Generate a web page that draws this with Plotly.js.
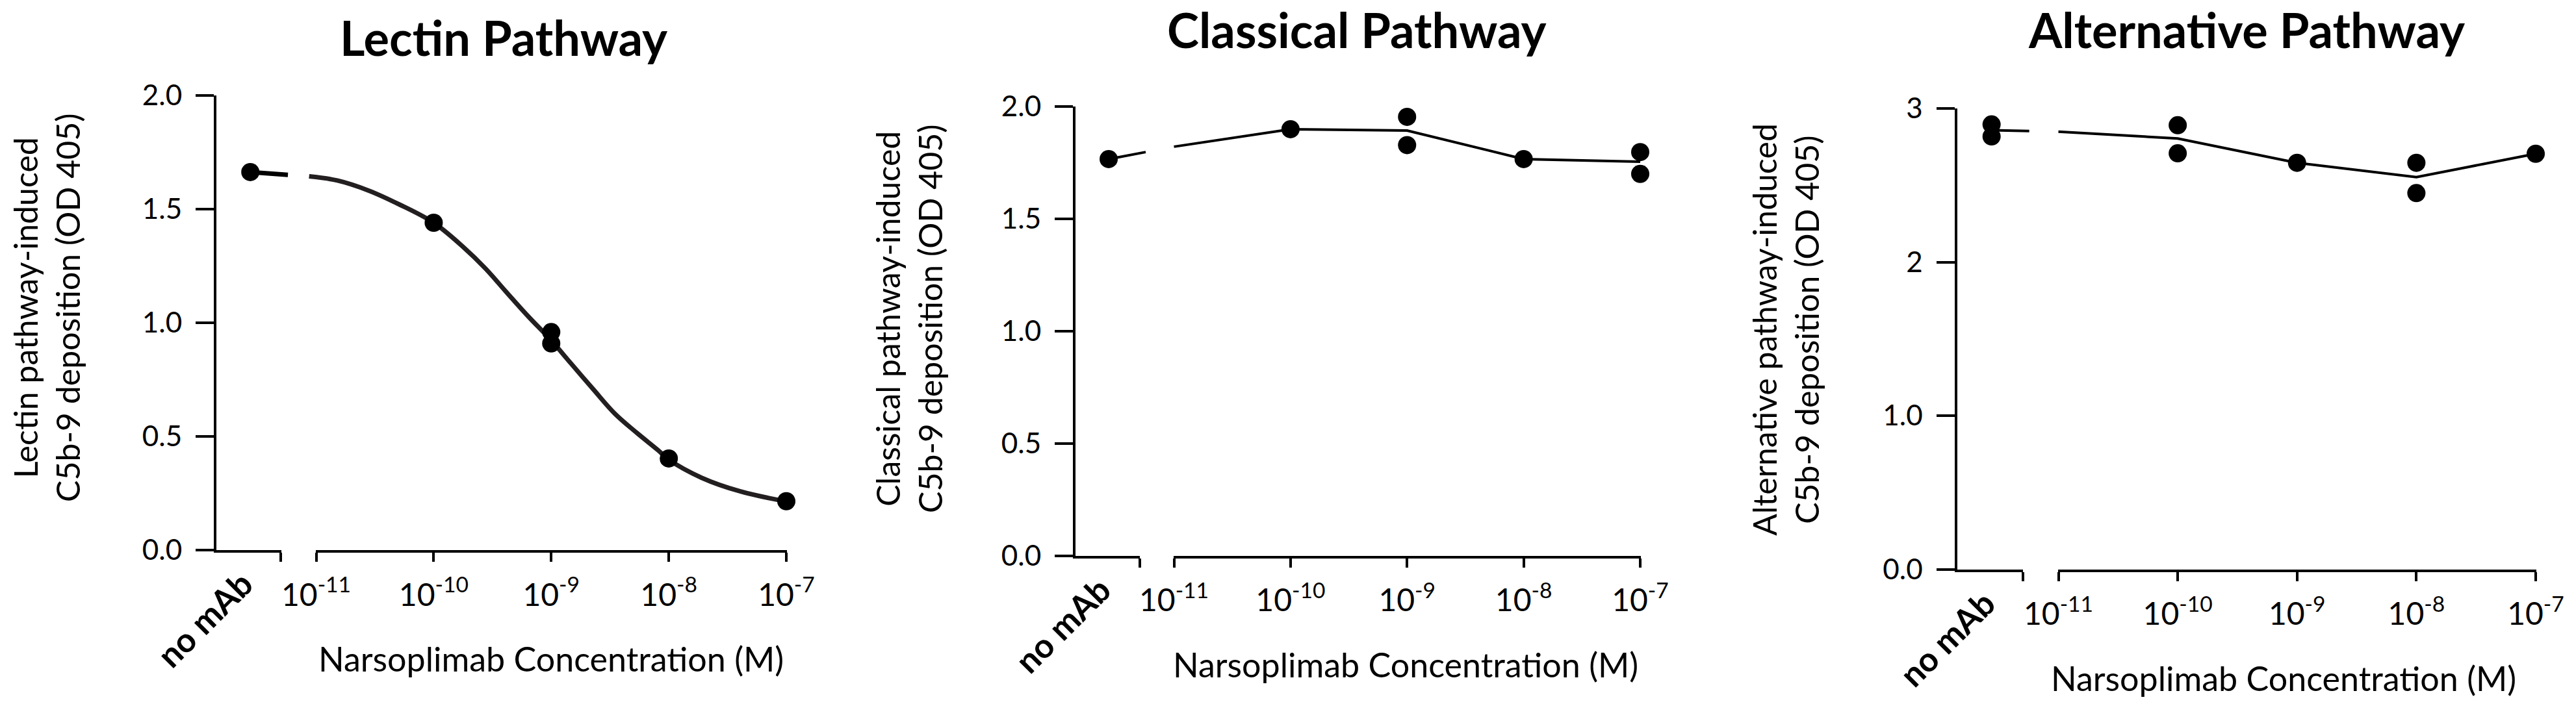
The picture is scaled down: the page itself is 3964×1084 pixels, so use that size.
<!DOCTYPE html>
<html>
<head>
<meta charset="utf-8">
<script src="https://cdn.plot.ly/plotly-3.0.1.min.js"></script>
<style>
  html, body { margin: 0; padding: 0; background: #fff; }
  #plotDiv { width: 3964px; height: 1084px; }
</style>
</head>
<body>
<div id="plotDiv"></div>
<script>
// ---- data (x in log10 M, y in OD 405) ----
var NO_MAB_X = -11.56;               // plotting position of the "no mAb" group on the broken axis
var doseTicks = [-11, -10, -9, -8, -7];
var doseTickText = ['10<sup>-11</sup>', '10<sup>-10</sup>', '10<sup>-9</sup>', '10<sup>-8</sup>', '10<sup>-7</sup>'];

// Lectin pathway
var lectinNoMab = [1.663];
var lectinX = [-10, -9, -9, -8, -7];
var lectinY = [1.440, 0.959, 0.909, 0.403, 0.215];
var lectinFitX = [-11.06, -10.82, -10.55, -10.29, -10.0, -9.75, -9.56, -9.38, -9.19, -9.01, -8.83, -8.64, -8.46, -8.27, -8.09, -8.0, -7.72, -7.39, -6.99];
var lectinFitY = [1.644, 1.626, 1.581, 1.520, 1.440, 1.334, 1.239, 1.134, 1.025, 0.928, 0.820, 0.706, 0.601, 0.515, 0.439, 0.398, 0.318, 0.258, 0.213];
var lectinNoMabLine = 1.663;

// Classical pathway
var classicalNoMab = [1.766];
var classicalX = [-10, -9, -9, -8, -7, -7];
var classicalY = [1.899, 1.954, 1.828, 1.766, 1.797, 1.700];
var classicalLineX = [-11, -10, -9, -8, -7];
var classicalLineY = [1.821, 1.899, 1.893, 1.766, 1.754];
var classicalNoMabLine = 1.766;

// Alternative pathway
var altNoMab = [2.896, 2.818];
var altX = [-10, -10, -9, -8, -8, -7];
var altY = [2.891, 2.708, 2.646, 2.646, 2.449, 2.705];
var altLineX = [-11, -10, -9, -8, -7];
var altLineY = [2.849, 2.804, 2.646, 2.553, 2.705];
var altNoMabLine = 2.858;

// ---- page geometry (pixels) ----
var W = 3964, H = 1084;
var FONT = 'Lato, "Open Sans", sans-serif';
var INK = '#000000';

var panels = [
  {title: 'Lectin Pathway', ylab: 'Lectin pathway-induced<br>C5b-9 deposition (OD 405)',
   yAx: 333, breakL: 432, breakR: 486.5, endX: 1210, y0: 847, yTop: 147,
   yMax: 2, yTicks: [0, 0.5, 1, 1.5, 2], yText: ['0.0', '0.5', '1.0', '1.5', '2.0'],
   titleX: 775, titleY: 57, ylabX: 72, ylabY: 474, xlabX: 848,
   pts: {nx: lectinNoMab, x: lectinX, y: lectinY}, curve: {x: lectinFitX, y: lectinFitY, shape: 'spline', w: 7},
   link: lectinNoMabLine},
  {title: 'Classical Pathway', ylab: 'Classical pathway-induced<br>C5b-9 deposition (OD 405)',
   yAx: 1655, breakL: 1753.5, breakR: 1806.5, endX: 2524, y0: 855.5, yTop: 164,
   yMax: 2, yTicks: [0, 0.5, 1, 1.5, 2], yText: ['0.0', '0.5', '1.0', '1.5', '2.0'],
   titleX: 2087, titleY: 46, ylabX: 1398, ylabY: 491, xlabX: 2163,
   pts: {nx: classicalNoMab, x: classicalX, y: classicalY}, curve: {x: classicalLineX, y: classicalLineY, shape: 'linear', w: 4},
   link: classicalNoMabLine},
  {title: 'Alternative Pathway', ylab: 'Alternative pathway-induced<br>C5b-9 deposition (OD 405)',
   yAx: 3011.5, breakL: 3112.5, breakR: 3167.5, endX: 3902, y0: 876.5, yTop: 167,
   yMax: 3, yTicks: [0, 1, 2, 3], yText: ['0.0', '1.0', '2', '3'],
   titleX: 3457, titleY: 46, ylabX: 2747, ylabY: 508, xlabX: 3514,
   pts: {nx: altNoMab, x: altX, y: altY}, curve: {x: altLineX, y: altLineY, shape: 'linear', w: 4},
   link: altNoMabLine}
];

function fx(px) { return px / W; }
function fy(py) { return 1 - py / H; }

var data = [];
var layout = {
  width: W, height: H,
  margin: {l: 0, r: 0, t: 0, b: 0},
  paper_bgcolor: '#ffffff', plot_bgcolor: 'rgba(0,0,0,0)',
  showlegend: false,
  font: {family: FONT, color: INK},
  annotations: []
};

function axName(n) { return n === 1 ? 'xaxis' : 'xaxis' + n; }
function axRef(n) { return n === 1 ? 'x' : 'x' + n; }

panels.forEach(function (p, i) {
  var dec = (p.endX - p.breakR) / 4;
  var toLog = function (px) { return -11 + (px - p.breakR) / dec; };
  var yid = i === 0 ? 'y' : 'y' + (i + 1);
  var yname = i === 0 ? 'yaxis' : 'yaxis' + (i + 1);
  var b = i * 5;
  var xData = b + 1, xL = b + 2, xLin = b + 3, xR = b + 4, xRin = b + 5;
  var hidden = {showline: false, showticklabels: false, ticks: '', showgrid: false, zeroline: false};

  // invisible axis carrying the data, spanning both segments
  layout[axName(xData)] = Object.assign({
    domain: [fx(p.yAx), fx(p.endX + 30)], range: [toLog(p.yAx), toLog(p.endX + 30)], anchor: yid
  }, hidden);

  var common = {anchor: yid, showgrid: false, zeroline: false, linecolor: INK, linewidth: 4,
    tickcolor: INK, tickwidth: 4, tickmode: 'array'};

  // "no mAb" segment (tick at its end crosses the axis line)
  layout[axName(xL)] = Object.assign({}, common, {
    domain: [fx(p.yAx), fx(p.breakL + 0.5)], range: [toLog(p.yAx), toLog(p.breakL + 0.5)],
    showline: true, ticks: 'outside', ticklen: 14, tickvals: [toLog(p.breakL)], showticklabels: false
  });
  layout[axName(xLin)] = Object.assign({}, common, {
    domain: [fx(p.yAx), fx(p.breakL + 0.5)], range: [toLog(p.yAx), toLog(p.breakL + 0.5)],
    showline: false, ticks: 'inside', ticklen: 13, tickvals: [toLog(p.breakL)], showticklabels: false
  });
  // concentration segment
  layout[axName(xR)] = Object.assign({}, common, {
    domain: [fx(p.breakR - 0.5), fx(p.endX + 0.5)], range: [toLog(p.breakR - 0.5), toLog(p.endX + 0.5)],
    showline: true, ticks: 'outside', ticklen: 14, tickvals: doseTicks, ticktext: doseTickText,
    tickfont: {family: FONT, size: 48, color: INK}, ticklabelstandoff: 10
  });
  layout[axName(xRin)] = Object.assign({}, common, {
    domain: [fx(p.breakR - 0.5), fx(p.endX + 0.5)], range: [toLog(p.breakR - 0.5), toLog(p.endX + 0.5)],
    showline: false, ticks: 'inside', ticklen: 13, tickvals: [doseTicks[0]], showticklabels: false
  });
  // empty traces so that every axis segment gets its own subplot drawn
  [xL, xLin, xR, xRin].forEach(function (n) {
    data.push({type: 'scatter', mode: 'markers', x: [], y: [], xaxis: axRef(n), yaxis: yid, hoverinfo: 'skip'});
  });

  layout[yname] = {
    domain: [fy(p.y0), fy(p.yTop)], range: [0, p.yMax], anchor: axRef(xData),
    showline: true, linecolor: INK, linewidth: 4, ticks: 'outside', ticklen: 28, tickwidth: 4,
    tickcolor: INK, tickmode: 'array', tickvals: p.yTicks, ticktext: p.yText,
    tickfont: {family: FONT, size: 44, color: INK}, ticklabelstandoff: 12,
    showgrid: false, zeroline: false
  };

  var xr = axRef(xData);
  // dashed link from the no-mAb mean to the start of the curve
  data.push({
    type: 'scatter', mode: 'lines', xaxis: xr, yaxis: yid, hoverinfo: 'skip',
    x: [NO_MAB_X, p.curve.x[0]], y: [p.link, p.curve.y[0]],
    line: {color: INK, width: p.curve.w, dash: '58px,300px'}
  });
  data.push({
    type: 'scatter', mode: 'lines', xaxis: xr, yaxis: yid, hoverinfo: 'skip',
    x: p.curve.x, y: p.curve.y,
    line: {color: i === 0 ? '#231f20' : INK, width: p.curve.w, shape: p.curve.shape, smoothing: 1}
  });
  var mx = p.pts.nx.map(function () { return NO_MAB_X; }).concat(p.pts.x);
  var my = p.pts.nx.concat(p.pts.y);
  data.push({
    type: 'scatter', mode: 'markers', xaxis: xr, yaxis: yid, hoverinfo: 'skip', cliponaxis: false,
    x: mx, y: my, marker: {color: INK, size: 28, line: {width: 0}}
  });

  // texts
  layout.annotations.push(
    {xref: 'paper', yref: 'paper', x: fx(p.titleX), y: fy(p.titleY), xanchor: 'center', yanchor: 'middle',
     text: '<b>' + p.title + '</b>', showarrow: false, font: {family: FONT, size: 74, color: INK}},
    {xref: 'paper', yref: 'paper', x: fx(p.ylabX), y: fy(p.ylabY), xanchor: 'center', yanchor: 'middle',
     text: p.ylab, textangle: -90, showarrow: false, font: {family: FONT, size: 50, color: INK}},
    {xref: 'paper', yref: 'paper', x: fx(p.xlabX), y: fy(p.y0 + 167), xanchor: 'center', yanchor: 'middle',
     text: 'Narsoplimab Concentration (M)', showarrow: false, font: {family: FONT, size: 52, color: INK}},
    {xref: 'paper', yref: 'paper', x: fx(p.breakR - 172), y: fy(p.y0 + 106), xanchor: 'center', yanchor: 'middle',
     text: '<b>no mAb</b>', textangle: -45, showarrow: false, font: {family: FONT, size: 52, color: INK}}
  );
});

Plotly.newPlot('plotDiv', data, layout, {staticPlot: true, displayModeBar: false});
</script>
</body>
</html>
